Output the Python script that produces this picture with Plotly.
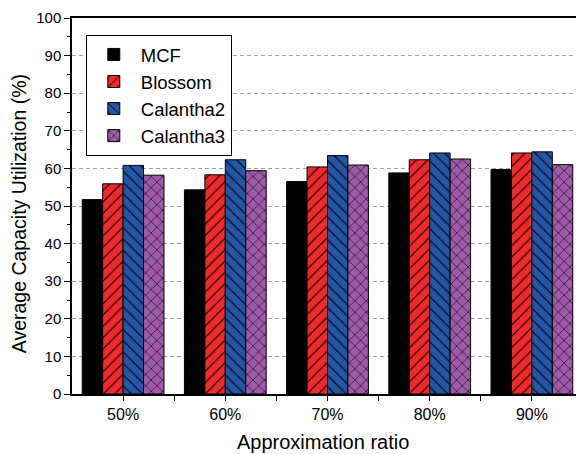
import plotly.graph_objects as go

categories = ["50%", "60%", "70%", "80%", "90%"]
mcf = [51.7, 54.3, 56.5, 58.8, 59.7]
blossom = [55.9, 58.3, 60.4, 62.3, 64.1]
calantha2 = [60.8, 62.3, 63.4, 64.1, 64.4]
calantha3 = [58.2, 59.4, 60.9, 62.5, 61.0]

series = [
    ("MCF", mcf, "#000000", ""),
    ("Blossom", blossom, "#F02A2A", "/"),
    ("Calantha2", calantha2, "#2356A6", "\\"),
    ("Calantha3", calantha3, "#A05AAA", "x"),
]

xpos = list(range(len(categories)))
font_family = "Arial, Liberation Sans, sans-serif"

fig = go.Figure()
for name, vals, color, shape in series:
    pattern = dict(shape=shape, fgcolor="black", bgcolor=color, size=8, solidity=0.14, fillmode="replace") if shape else None
    fig.add_trace(go.Bar(
        name=name, x=xpos, y=vals,
        marker=dict(color=color, line=dict(color="black", width=1), pattern=pattern),
    ))

fig.update_layout(
    width=576, height=446,
    margin=dict(l=64, r=1, t=10, b=60, autoexpand=False),
    barmode="group", bargap=0.2, bargroupgap=0,
    plot_bgcolor="white", paper_bgcolor="white",
    font=dict(family=font_family, color="black", size=15),
    legend=dict(
        x=0.027, y=0.955, xanchor="left", yanchor="top",
        bordercolor="black", borderwidth=1, bgcolor="white",
        font=dict(size=18.5), itemwidth=44, tracegroupgap=0,
    ),
    xaxis=dict(
        range=[-0.5, 4.5], tickvals=xpos, ticktext=categories,
        showline=True, linecolor="black", linewidth=1.5, mirror=True,
        ticks="outside", ticklen=5, tickwidth=1.2, tickcolor="black",
        minor=dict(tickvals=[i + 0.5 for i in xpos[:-1]], ticks="outside", ticklen=5, tickwidth=1.2, tickcolor="black"),
        showgrid=False, zeroline=False, automargin=False,
        tickfont=dict(size=16),
    ),
    yaxis=dict(
        range=[0, 100], dtick=10,
        showline=True, linecolor="black", linewidth=1.5, mirror=True,
        ticks="outside", ticklen=6, tickwidth=1.2, tickcolor="black",
        minor=dict(dtick=5, ticks="outside", ticklen=3, tickwidth=1, tickcolor="black"),
        showgrid=True, gridcolor="#A0A0A0", griddash="4px,3px", gridwidth=1,
        zeroline=False, automargin=False,
        tickfont=dict(size=15),
    ),
    annotations=[
        dict(text="Approximation ratio", xref="paper", yref="paper",
             x=0.491, y=-0.128, xanchor="center", yanchor="middle",
             showarrow=False, font=dict(size=20)),
        dict(text="Average Capacity Utilization (%)", xref="paper", yref="paper",
             x=-0.103, y=0.479, xanchor="center", yanchor="middle", textangle=-90,
             showarrow=False, font=dict(size=19.5)),
    ],
)

fig.write_html("out.html")
